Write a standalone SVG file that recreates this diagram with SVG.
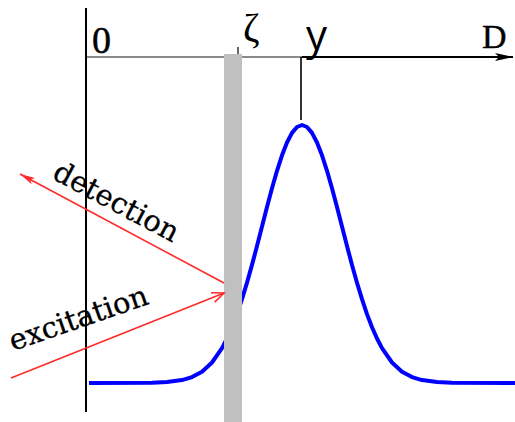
<svg xmlns="http://www.w3.org/2000/svg" width="515" height="422" viewBox="0 0 515 422">
<style>
.serif{font-family:"DejaVu Serif","Liberation Serif",serif;fill:#000}
.tserif{font-family:"Liberation Serif","Times New Roman",serif;fill:#000}
.sans{font-family:"Open Sans","DejaVu Sans",sans-serif;fill:#000}
.ray{stroke:#ff2a2a;stroke-width:1.6;fill:none}
</style>
<defs>
<marker id="axisHead" markerUnits="userSpaceOnUse" markerWidth="20" markerHeight="10" refX="18" refY="5" orient="auto">
<path d="M0,1 L18,5 L0,9 L4,5 z" fill="#000"/>
</marker>
<marker id="detHead" markerUnits="userSpaceOnUse" markerWidth="16" markerHeight="8" refX="15" refY="4" orient="auto">
<path d="M0,0.5 L15,4 L0,7.5 L3,4 z" fill="#ff2a2a"/>
</marker>
<marker id="excHead" markerUnits="userSpaceOnUse" markerWidth="16" markerHeight="12" refX="13" refY="6" orient="auto">
<path d="M1,1 L13,6 L1,11" fill="none" stroke="#ff2a2a" stroke-width="1.6"/>
</marker>
</defs>

<g id="axes">
<line x1="86" y1="8" x2="86" y2="412" stroke="#000" stroke-width="2"/>
<line x1="87" y1="57" x2="302" y2="57" stroke="#8a8a8a" stroke-width="2.2"/>
<line x1="302" y1="57" x2="513" y2="57" stroke="#000" stroke-width="2" marker-end="url(#axisHead)"/>
<line x1="301" y1="57" x2="301" y2="120" stroke="#000" stroke-width="1.6"/>
<line x1="238" y1="47" x2="238" y2="55" stroke="#000" stroke-width="1.2"/>
</g>

<g id="profile">
<path d="M89,383 L152,382.8 L167,382.1 L182,380.1 L192,377.1 L202,371.7 L212,362.5 L222,348.1 L227,338.5 L232,327.2 L237,314.1 L242,299.2 L247,282.7 L252,264.9 L257,246 L262,226.5 L267,207.1 L272,188.3 L277,170.8 L282,155.3 L287,142.5 L292,132.9 L297,127 L302,125 L307,127 L312,132.9 L317,142.5 L322,155.3 L327,170.8 L332,188.3 L337,207.1 L342,226.5 L347,246 L352,264.9 L357,282.7 L362,299.2 L367,314.1 L372,327.2 L377,338.5 L382,348.1 L392,362.5 L402,371.7 L412,377.1 L422,380.1 L437,382.1 L452,382.8 L515,383" fill="none" stroke="#0000ff" stroke-width="4" stroke-linejoin="round"/>
</g>

<g id="interface">
<rect x="224" y="54" width="18" height="368" fill="#c0c0c0"/>
</g>

<g id="connectors">
<line class="ray" x1="224" y1="283" x2="20" y2="174" marker-end="url(#detHead)"/>
<line class="ray" x1="11" y1="378" x2="224" y2="293" marker-end="url(#excHead)"/>
</g>

<g id="labels">
<text class="tserif" x="92" y="53" font-size="38" stroke="#000" stroke-width="0.5">0</text>
<text class="tserif" x="243" y="41" font-size="40">ζ</text>
<text class="sans" x="306" y="50" font-size="42">y</text>
<text class="tserif" x="482" y="48" font-size="34" stroke="#000" stroke-width="0.4">D</text>
<text class="serif" font-size="29" stroke="#000" stroke-width="0.3" transform="translate(51,178) rotate(28)">detection</text>
<text class="serif" font-size="29" stroke="#000" stroke-width="0.3" transform="translate(13,351) rotate(-19)">excitation</text>
</g>
</svg>
